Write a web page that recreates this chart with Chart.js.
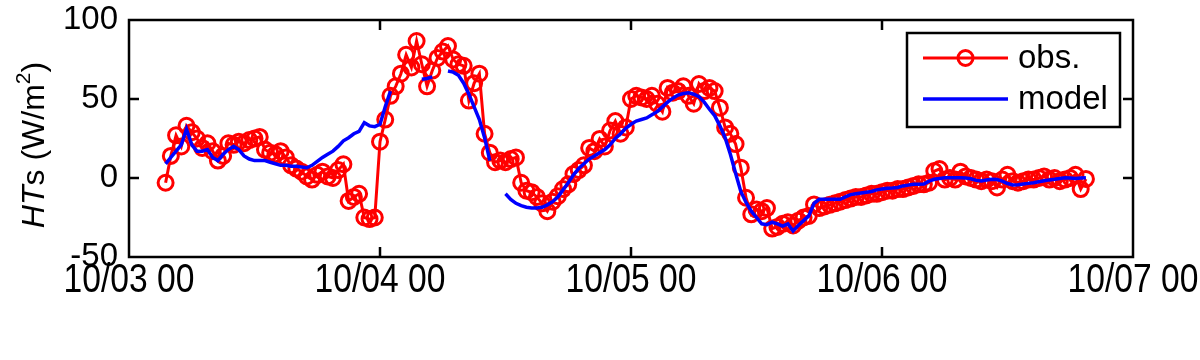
<!DOCTYPE html>
<html><head><meta charset="utf-8">
<script src="https://cdn.jsdelivr.net/npm/chart.js@4.4.1/dist/chart.umd.min.js"></script>
<style>html,body{margin:0;padding:0;background:#fff;}#wrap{width:1200px;height:360px;position:relative;}</style>
</head><body><div id="wrap"><canvas id="c" width="1200" height="360"></canvas></div>
<script>
// time axis: hours since 10/03 00
const startHour = 3.5;
const stepHours = 0.5;
const xTickHours = [0, 24, 48, 72, 96];
const xTickLabels = ['10/03 00', '10/04 00', '10/05 00', '10/06 00', '10/07 00'];
const yTickValues = [-50, 0, 50, 100];
const seriesLabels = ['obs.', 'model'];
const yTitleParts = ['HT', 's (W/m', '2', ')'];

const obsValues = [
  -3,14,27,20,33,29,25,19,22,17,
  11,14,22,21,23,22,24,25,26,18,
  16,15,17,13,8,6,4,1,-1,2,
  4,1,0,5,8.7,-14.5,-12,-10,-25,-26,
  -25,23,37,52,58,66,78,70,86.7,72,
  58,68,76,80,83.5,75,72,71,49,60,
  66,28,16,10,11,10,12,13,-3,-8,
  -9,-12,-16,-21,-15,-11.5,-7,-4,2.5,5,
  8,19,17,24.7,20,30,36,28,32,50,
  52,51,50,52,47,42,57,54,55,58,
  52,47,59.5,55,57,55,44.5,32,28,21.5,
  6.5,-12.5,-23,-20,-21,-19,-32,-31,-29,-28,
  -30,-27,-25,-24,-16.7,-19,-18,-17,-16,-15,
  -14,-13,-12,-12,-11,-10,-10,-9,-8,-8,
  -7,-7,-6,-5,-4,-4,-3,4.4,5.7,-1,
  0,-1,4,1,0,-1,-2,-1,-2,-6,
  -1,2,-2,-3,-2,-1,-1,0,1,-1,
  0,-2,-1,0,2,-7,-0.6
];
const modelValues = [
  9,13,17,21,31,21,17,17,18,13,
  11,15,18,20,18,14,12,11,11,11,
  10,9,8,8,7.5,7.5,7,6.5,8,10.5,
  13,15,17,20,23.5,25.5,28,29.5,35,33,
  32.5,34,45,55,null,null,null,null,null,62.5,
  63,64,null,null,67.7,67,65,60,53,45,
  37,25.5,11,null,null,-10,-13.5,-16,-17.5,-18.5,
  -19,-19,-18.5,-17,-15,-12,-7.5,-3,2,6,
  9,12,14,16,18,21,25,28,31.5,34,
  36,37,38,40,42,45,48,50.5,52.5,53.5,
  54,53,51.5,48,43.5,39.5,33,25.5,15,3,
  -8.5,-15.5,-21,-25,-29,-29.5,-28,-29,-30.5,-29,
  -33.5,-30,-27,-24,-16,-13.5,-13.5,-13.5,-13.5,-13.5,
  -12,-10.5,-10,-9.5,-9,-8.5,-7.5,-7,-6.5,-6.3,
  -6,-5,-4.5,-4,-4,-3.8,-2,-0.8,-0.3,0.2,
  0.2,0.2,0.2,0,-0.5,-1.5,-1.9,-1.3,-0.8,-1,
  -2,-3.5,-4.4,-4.2,-3.8,-3.4,-3,-2.4,-1.8,-1.2,
  -0.8,-0.3,0.2,0,-0.3,0,0.2
];

const toPoints = arr => arr.map((v, i) => ({ x: startHour + i * stepHours, y: v }));

const FONT = "'Liberation Sans', Arial, Helvetica, sans-serif";

const framePlugin = {
  id: 'frame',
  afterDraw(chart) {
    const { ctx, chartArea: a, scales } = chart;
    ctx.save();
    ctx.strokeStyle = '#000';
    ctx.lineWidth = 2.5;
    ctx.strokeRect(a.left, a.top, a.right - a.left, a.bottom - a.top);
    const L = 10;
    ctx.beginPath();
    scales.x.ticks.forEach(t => {
      const px = scales.x.getPixelForValue(t.value);
      if (px <= a.left + 1 || px >= a.right - 1) return;
      ctx.moveTo(px, a.bottom); ctx.lineTo(px, a.bottom - L);
      ctx.moveTo(px, a.top); ctx.lineTo(px, a.top + L);
    });
    scales.y.ticks.forEach(t => {
      const py = scales.y.getPixelForValue(t.value);
      if (py <= a.top + 1 || py >= a.bottom - 1) return;
      ctx.moveTo(a.left, py); ctx.lineTo(a.left + L, py);
      ctx.moveTo(a.right, py); ctx.lineTo(a.right - L, py);
    });
    ctx.stroke();

    // x tick labels (narrow style, drawn at the scale's tick pixels)
    ctx.fillStyle = '#000';
    ctx.font = '41px ' + FONT;
    ctx.textAlign = 'center';
    ctx.textBaseline = 'alphabetic';
    scales.x.ticks.forEach((t, i) => {
      const px = scales.x.getPixelForValue(t.value);
      ctx.save();
      ctx.translate(px, a.bottom + 35);
      ctx.scale(0.82, 1);
      ctx.fillText(xTickLabels[xTickHours.indexOf(t.value)], 0, 0);
      ctx.restore();
    });
    ctx.restore();

    // y axis title with italic HT and superscript 2
    ctx.save();
    ctx.translate(44, 145);
    ctx.rotate(-Math.PI / 2);
    ctx.fillStyle = '#000';
    ctx.textBaseline = 'alphabetic';
    const segs = [
      { t: yTitleParts[0], f: 'italic 32px ' + FONT, dy: 0 },
      { t: yTitleParts[1], f: '32px ' + FONT, dy: 0 },
      { t: yTitleParts[2], f: '21px ' + FONT, dy: -14 },
      { t: yTitleParts[3], f: '32px ' + FONT, dy: 0 }
    ];
    let total = 0;
    segs.forEach(s => { ctx.font = s.f; s.w = ctx.measureText(s.t).width; total += s.w; });
    let x = -total / 2;
    segs.forEach(s => { ctx.font = s.f; ctx.fillText(s.t, x, s.dy); x += s.w; });
    ctx.restore();

    // legend box
    ctx.save();
    const bx = 907, by = 33, bw = 213, bh = 94;
    ctx.fillStyle = '#fff';
    ctx.fillRect(bx, by, bw, bh);
    ctx.strokeStyle = '#000';
    ctx.lineWidth = 2.5;
    ctx.strokeRect(bx, by, bw, bh);
    const ds = chart.data.datasets;
    const rows = [{ d: ds[1], y: 58 }, { d: ds[0], y: 99 }];
    ctx.font = '33px ' + FONT;
    ctx.textBaseline = 'middle';
    rows.forEach(r => {
      ctx.strokeStyle = r.d.borderColor;
      ctx.lineWidth = r.d.borderWidth;
      ctx.beginPath(); ctx.moveTo(923, r.y); ctx.lineTo(1008, r.y); ctx.stroke();
      if (r.d.pointRadius > 0) {
        ctx.lineWidth = r.d.pointBorderWidth;
        ctx.beginPath(); ctx.arc(965.5, r.y, r.d.pointRadius, 0, Math.PI * 2); ctx.stroke();
      }
      ctx.fillStyle = '#000';
      ctx.fillText(r.d.label, 1018, r.y + 1);
    });
    ctx.restore();
  }
};

new Chart(document.getElementById('c'), {
  type: 'line',
  data: {
    datasets: [
      {
        label: seriesLabels[1],
        data: toPoints(modelValues),
        borderColor: '#0000ff',
        borderWidth: 3.5,
        pointRadius: 0,
        spanGaps: false,
        tension: 0,
        order: 0
      },
      {
        label: seriesLabels[0],
        data: toPoints(obsValues),
        borderColor: '#ff0000',
        borderWidth: 3,
        pointStyle: 'circle',
        pointRadius: 7.5,
        pointBorderWidth: 3,
        pointBorderColor: '#ff0000',
        pointBackgroundColor: 'rgba(0,0,0,0)',
        tension: 0,
        order: 1
      }
    ]
  },
  options: {
    responsive: false,
    animation: false,
    devicePixelRatio: 1,
    layout: { padding: { top: 20, right: 67, left: 0, bottom: 0 } },
    plugins: { legend: { display: false }, tooltip: { enabled: false } },
    scales: {
      x: {
        type: 'linear',
        min: xTickHours[0],
        max: xTickHours[xTickHours.length - 1],
        afterBuildTicks: s => { s.ticks = xTickHours.map(v => ({ value: v })); },
        ticks: { display: false },
        grid: { display: false, drawTicks: false },
        border: { display: false },
        afterFit: s => { s.height = 103; }
      },
      y: {
        min: yTickValues[0],
        max: yTickValues[yTickValues.length - 1],
        afterBuildTicks: s => { s.ticks = yTickValues.map(v => ({ value: v })); },
        ticks: {
          color: '#000',
          font: { family: FONT, size: 33 },
          padding: 0,
          callback: v => String(v)
        },
        grid: { display: false, drawTicks: true, tickLength: 11 },
        border: { display: false },
        afterFit: s => { s.width = 129; }
      }
    }
  },
  plugins: [framePlugin]
});
</script>
</body></html>
